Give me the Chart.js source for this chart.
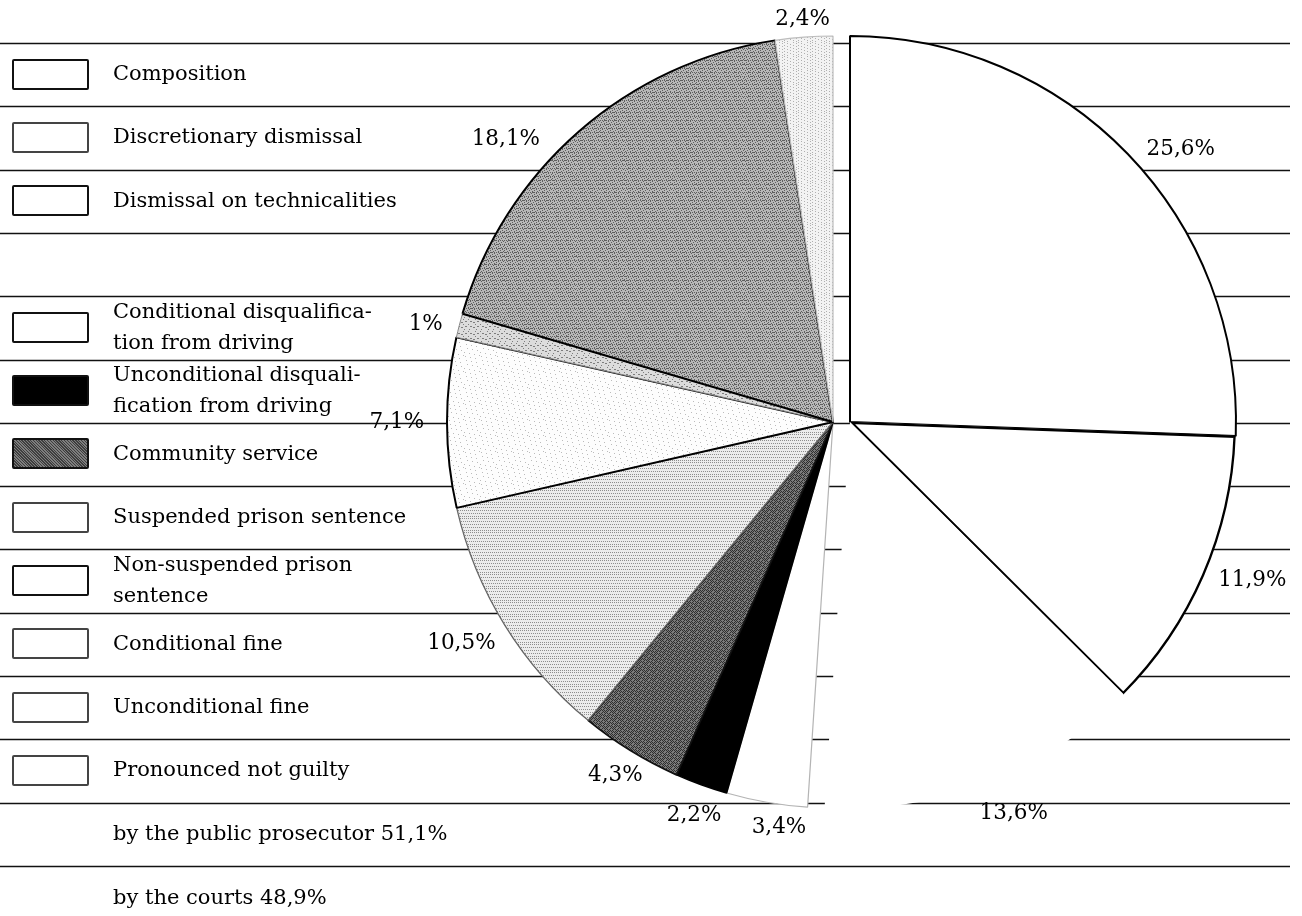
<!DOCTYPE html>
<html><head><meta charset="utf-8">
<script src="https://cdn.jsdelivr.net/npm/chart.js@4.4.0/dist/chart.umd.min.js"></script>
<style>
html,body{margin:0;padding:0;background:#fff;}
#wrap{position:relative;width:1302px;height:916px;overflow:hidden;font-family:"DejaVu Serif",serif;color:#000;}
canvas{position:absolute;left:0;top:0;}
.box{position:absolute;left:12px;width:77px;height:31px;box-sizing:border-box;border:2px solid #111;border-radius:2px;background:#fff;}
.txt{position:absolute;left:113px;font-size:21px;line-height:31px;white-space:nowrap;}
</style></head>
<body><div id="wrap">
<canvas id="lines" width="1302" height="916"></canvas>
<canvas id="rightPiece" width="1302" height="916"></canvas>
<canvas id="leftPiece" width="1302" height="916"></canvas>
<div id="legend"></div>
</div>
<script>
// ---- data ----
const categories = ["Composition","Discretionary dismissal","Dismissal on technicalities",
  "Conditional disqualification from driving","Unconditional disqualification from driving",
  "Community service","Suspended prison sentence","Non-suspended prison sentence",
  "Conditional fine","Unconditional fine","Pronounced not guilty"];
const legendText = ["Composition","Discretionary dismissal","Dismissal on technicalities",
  "Conditional disqualifica-\ntion from driving","Unconditional disquali-\nfication from driving",
  "Community service","Suspended prison sentence","Non-suspended prison\nsentence",
  "Conditional fine","Unconditional fine","Pronounced not guilty"];
const shares = [25.6, 11.9, 13.6, 3.4, 2.2, 4.3, 10.5, 7.1, 1, 18.1, 2.4];
const shareLabels = ["25,6%","11,9%","13,6%","3,4%","2,2%","4,3%","10,5%","7,1%","1%","18,1%","2,4%"];
const groupOf = ["prosecutor","prosecutor","prosecutor","courts","courts","courts","courts","courts","courts","courts","courts"];
const groupTotals = ["by the public prosecutor 51,1%","by the courts 48,9%"];

// ---- label placement (style) ----
const labelShiftDeg = [4.5, -2, -2, -2.3, -0.5, 0, 1, 0, -1, -8, 0];
const labelDist = [1.11, 1.12, 1.10, 1.06, 1.08, 1.075, 1.12, 1.13, 1.085, 1.12, 1.045];

// ---- textures ----
function tile(size, base, dot, rule){
  const c=document.createElement('canvas'); c.width=size; c.height=size;
  const g=c.getContext('2d'); g.fillStyle=base; g.fillRect(0,0,size,size);
  g.fillStyle=dot;
  for(let y=0;y<size;y++)for(let x=0;x<size;x++) if(rule(x,y)) g.fillRect(x,y,1,1);
  return g.createPattern(c,'repeat');
}
const T = {
  white:'#ffffff',
  black:'#000000',
  dark: tile(8,'#7a7a7a','#2e2e2e',(x,y)=>(x+y)%2===0 && (x*3+y)%5!==0),
  mottle: tile(24,'#b8b8b8','#5e5e5e',(x,y)=>((x*x+3*y+x*y)%4===0)||((x+2*y)%5===0)),
  light: tile(14,'#ececec','#8e8e8e',(x,y)=>(x*3+y*5)%6===0),
  lighter: tile(14,'#f3f3f3','#b0b0b0',(x,y)=>(x*5+y*3)%9===0),
  sparse: tile(16,'#fdfdfd','#bcbcbc',(x,y)=>(x*7+y*3)%19===0),
  medlight: tile(12,'#dcdcdc','#7e7e7e',(x,y)=>((x*x+y*3+x*y)%7===0))
};
const fills = [T.white,T.white,T.white,T.white,T.black,T.dark,T.light,T.sparse,T.medlight,T.mottle,T.lighter];
const borderCols = ['#000','#000','#000','#b4b4b4','#000','#111','#666','#000','#888','#000','#bdbdbd'];
const borderWs = [2,2,0,1.2,1.6,1.8,1.3,2,1,2,1.2];
const borderAligns = ['center','inner','center','center','center','center','center','center','center','center','center'];

// ---- background rules ----
const ruleCount = 14, ruleTop = 43, ruleGap = 63.3;
(function(){
  const g=document.getElementById('lines').getContext('2d');
  g.strokeStyle='#111'; g.lineWidth=1.6;
  for(let k=0;k<ruleCount;k++){
    const y=Math.round(ruleTop+ruleGap*k)+0.5;
    g.beginPath(); g.moveTo(0,y); g.lineTo(1290,y); g.stroke();
  }
})();

// ---- legend ----
(function(){
  const L=document.getElementById('legend');
  const rowCenter = r => ruleTop + ruleGap*(r+0.5);
  categories.forEach((c,i)=>{
    const r = i + (i>=3 ? 1 : 0);
    const cy = rowCenter(r);
    const box=document.createElement('div'); box.className='box';
    box.style.top=(cy-16)+'px';
    if(i===4){box.style.background='#000';}
    if(i===5){box.style.background='repeating-linear-gradient(45deg,#3e3e3e 0 1px,#7e7e7e 1px 2px)';}
    if([1,6,8,9,10].includes(i)) box.style.borderColor='#444';
    L.appendChild(box);
    const t=document.createElement('div'); t.className='txt';
    const lines=legendText[i].split('\n');
    t.innerHTML=lines.join('<br>');
    t.style.top=(cy - lines.length*31/2 - 1)+'px';
    L.appendChild(t);
  });
  groupTotals.forEach((s,j)=>{
    const cy=rowCenter(12+j);
    const t=document.createElement('div'); t.className='txt';
    t.textContent=s; t.style.top=(cy-16)+'px';
    L.appendChild(t);
  });
})();

// ---- pie pieces ----
const labelPlugin = {
  id:'shareLabels',
  afterDatasetsDraw(chart){
    const ctx=chart.ctx, grp=chart.options.plugins.shareLabels.group;
    const meta=chart.getDatasetMeta(0);
    ctx.save();
    ctx.font='21.5px "DejaVu Serif", serif';
    ctx.fillStyle='#000'; ctx.textAlign='center'; ctx.textBaseline='middle';
    meta.data.forEach((arc,i)=>{
      if(groupOf[i]!==grp) return;
      const p=arc.getProps(['x','y','startAngle','endAngle','outerRadius'],true);
      const a=(p.startAngle+p.endAngle)/2 + labelShiftDeg[i]*Math.PI/180;
      const d=p.outerRadius*labelDist[i];
      ctx.fillText(shareLabels[i], p.x+Math.cos(a)*d, p.y+Math.sin(a)*d);
    });
    ctx.restore();
  }
};
function pieConfig(grp, pad){
  const own=i=>groupOf[i]===grp;
  return {
    type:'pie',
    data:{labels:categories, datasets:[{
      data:shares,
      backgroundColor:shares.map((v,i)=>own(i)?fills[i]:'rgba(0,0,0,0)'),
      borderColor:shares.map((v,i)=>own(i)?borderCols[i]:'rgba(0,0,0,0)'),
      borderWidth:shares.map((v,i)=>own(i)?borderWs[i]:0),
      borderAlign:borderAligns,
      radius:386, hoverOffset:0
    }]},
    options:{responsive:false, animation:false, events:[],
      layout:{padding:pad},
      plugins:{legend:{display:false}, tooltip:{enabled:false}, shareLabels:{group:grp}}},
    plugins:[labelPlugin]
  };
}
new Chart(document.getElementById('rightPiece'), pieConfig('prosecutor',{left:450,right:52,top:22,bottom:94}));
new Chart(document.getElementById('leftPiece'), pieConfig('courts',{left:433,right:69,top:22,bottom:94}));
</script>
</body></html>
